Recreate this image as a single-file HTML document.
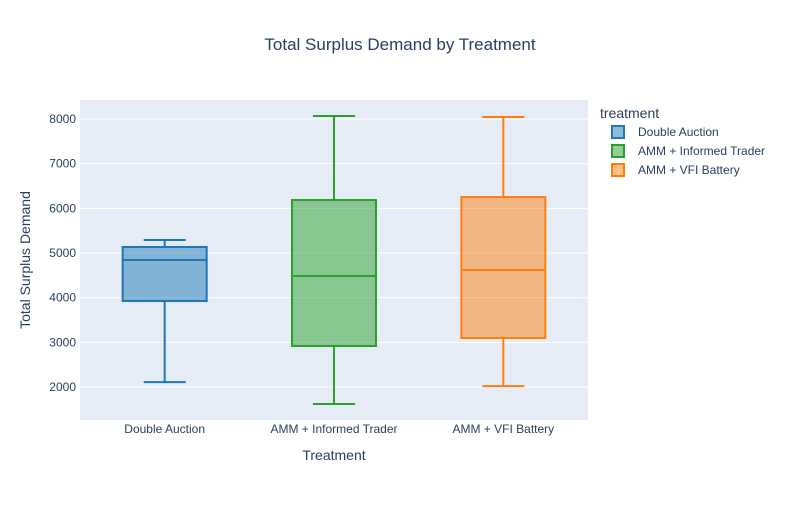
<!DOCTYPE html>
<html><head><meta charset="utf-8"><style>
body{margin:0;background:#fff;font-family:"Liberation Sans",Arial,sans-serif;}
svg text{font-family:"Liberation Sans",Arial,sans-serif;fill:#2a3f5f;}
</style></head><body>
<svg id="chart" width="800" height="500">
<rect x="0" y="0" width="800" height="500" fill="#fff"/>
<text x="400" y="50" text-anchor="middle" font-size="17">Total Surplus Demand by Treatment</text>
<rect x="80" y="100" width="508" height="320" fill="#e5ecf6"/>
<g id="grid"></g><g id="boxes"></g><g id="ticks"></g>
<text x="334" y="460" text-anchor="middle" font-size="14">Treatment</text>
<text transform="translate(30,260) rotate(-90)" text-anchor="middle" font-size="14">Total Surplus Demand</text>
<g id="legend"><text x="600" y="118" font-size="14">treatment</text></g>
</svg>
<script>
const categories=["Double Auction","AMM + Informed Trader","AMM + VFI Battery"];
const mins=[2110,1620,2020];
const q1s=[3925,2918,3097];
const medians=[4843,4485,4619];
const q3s=[5134,6186,6253];
const maxs=[5290,8067,8045];
const yTicks=[2000,3000,4000,5000,6000,7000,8000];
const colors=["#1f77b4","#2ca02c","#ff7f0e"];
const fills=["rgba(31,119,180,0.5)","rgba(44,160,44,0.5)","rgba(255,127,14,0.5)"];
const NS="http://www.w3.org/2000/svg";
const yMin=1261,yMax=8425,plotTop=100,plotBot=420,plotLeft=80,plotRight=588;
function ys(v){return plotBot-(v-yMin)/(yMax-yMin)*(plotBot-plotTop);}
function xs(i){return plotLeft+(i+0.5)*(plotRight-plotLeft)/categories.length;}
function mk(p,tag,a){const e=document.createElementNS(NS,tag);for(const k in a)e.setAttribute(k,a[k]);p.appendChild(e);return e;}
const grid=document.getElementById('grid'),tk=document.getElementById('ticks'),bx=document.getElementById('boxes'),lg=document.getElementById('legend');
yTicks.forEach(v=>{
 const l=mk(grid,'line',{x1:plotLeft,x2:plotRight,y1:ys(v),y2:ys(v),stroke:'#fff','stroke-width':1});
 
 
 const t=mk(tk,'text',{x:plotLeft-4,y:ys(v)+4,'text-anchor':'end','font-size':12});
 t.textContent=v;
 
 
});
const bw=84;
categories.forEach((c,i)=>{
 const cx=xs(i),col=colors[i];
 const g=mk(bx,'g',{});
 
 
 mk(g,'line',{x1:cx,x2:cx,y1:ys(maxs[i]),y2:ys(q3s[i]),stroke:col,'stroke-width':2});
 mk(g,'line',{x1:cx,x2:cx,y1:ys(q1s[i]),y2:ys(mins[i]),stroke:col,'stroke-width':2});
 mk(g,'line',{x1:cx-21,x2:cx+21,y1:ys(maxs[i]),y2:ys(maxs[i]),stroke:col,'stroke-width':2});
 mk(g,'line',{x1:cx-21,x2:cx+21,y1:ys(mins[i]),y2:ys(mins[i]),stroke:col,'stroke-width':2});
 mk(g,'rect',{x:cx-bw/2,y:ys(q3s[i]),width:bw,height:ys(q1s[i])-ys(q3s[i]),fill:fills[i],stroke:col,'stroke-width':2});
 mk(g,'line',{x1:cx-bw/2,x2:cx+bw/2,y1:ys(medians[i]),y2:ys(medians[i]),stroke:col,'stroke-width':2});
 const t=mk(tk,'text',{x:cx,y:433,'text-anchor':'middle','font-size':12});
 t.textContent=c;
 
 
 const ly=132+i*19;
 const e=mk(lg,'g',{});
 
 
 mk(e,'rect',{x:612,y:ly-6,width:12,height:12,fill:fills[i],stroke:col,'stroke-width':2});
 const lt=mk(e,'text',{x:638,y:ly+4,'font-size':12});
 lt.textContent=c;
});
</script>
</body></html>
